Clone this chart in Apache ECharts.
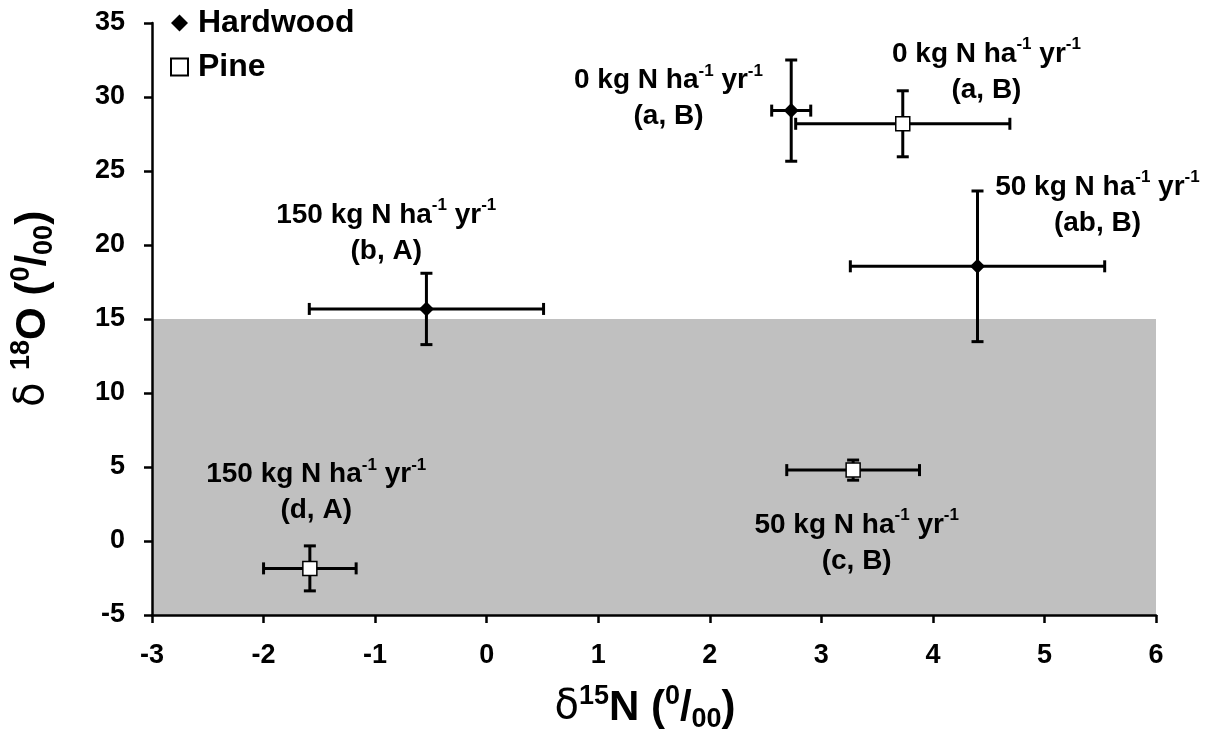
<!DOCTYPE html>
<html><head><meta charset="utf-8">
<script src="https://cdn.jsdelivr.net/npm/echarts@6/dist/echarts.min.js"></script>
<style>html,body{margin:0;padding:0;background:#fff}#c{width:1208px;height:738px}</style>
</head><body><div id="c"></div>
<script>
// ---- data ----
const treatments = ['0', '50', '150'];
const hardwoodN = [2.73, 4.40, -0.54];
const hardwoodNse = [0.175, 1.14, 1.05];
const hardwoodO = [29.08, 18.56, 15.68];
const hardwoodOse = [3.42, 5.09, 2.41];
const pineN = [3.73, 3.285, -1.585];
const pineNse = [0.96, 0.595, 0.415];
const pineO = [28.19, 4.79, -1.85];
const pineOse = [2.23, 0.68, 1.52];
const hardwoodLetters = ['(a, B)', '(ab, B)', '(b, A)'];
const pineLetters = ['(a, B)', '(c, B)', '(d, A)'];
// annotation anchor points (data coordinates)
const hardwoodLabelAt = [[1.63, 29.88], [5.475, 22.71], [-0.90, 20.79]];
const pineLabelAt = [[4.48, 31.7], [3.317, -0.15], [-1.528, 3.28]];
const xRange = [-3, 6, 1];
const yRange = [-5, 35, 5];
const shadeRange = [-5, 15];

const FONT = 'Liberation Sans, Arial, sans-serif';

function errRows(xs, xe, ys, ye) {
  return xs.map((x, i) => [x, ys[i], xe[i], ye[i]]);
}
function labelRows(pos, letters) {
  return pos.map((p, i) => ({ value: p, treat: treatments[i], letters: letters[i] }));
}
function errRender(params, api) {
  const x = api.value(0), y = api.value(1), xe = api.value(2), ye = api.value(3);
  const l = api.coord([x - xe, y]), r = api.coord([x + xe, y]);
  const t = api.coord([x, y + ye]), b = api.coord([x, y - ye]);
  const cap = 6;
  const style = { stroke: '#000', lineWidth: 3 };
  return { type: 'group', children: [
    { type: 'line', shape: { x1: l[0], y1: l[1], x2: r[0], y2: r[1] }, style },
    { type: 'line', shape: { x1: l[0], y1: l[1] - cap, x2: l[0], y2: l[1] + cap }, style },
    { type: 'line', shape: { x1: r[0], y1: r[1] - cap, x2: r[0], y2: r[1] + cap }, style },
    { type: 'line', shape: { x1: t[0], y1: t[1], x2: b[0], y2: b[1] }, style },
    { type: 'line', shape: { x1: t[0] - cap, y1: t[1], x2: t[0] + cap, y2: t[1] }, style },
    { type: 'line', shape: { x1: b[0] - cap, y1: b[1], x2: b[0] + cap, y2: b[1] }, style }
  ]};
}
const annRich = {
  m: { fontFamily: FONT, fontSize: 28, fontWeight: 'bold', color: '#000', lineHeight: 36 },
  s: { fontFamily: FONT, fontSize: 17, fontWeight: 'bold', color: '#000', lineHeight: 24, verticalAlign: 'top' }
};
function annFormatter(p) {
  return '{m|' + p.data.treat + ' kg N ha}{s|-1}{m| yr}{s|-1}\n{m|' + p.data.letters + '}';
}
function labelSeries(name, rows) {
  return {
    name: name, type: 'scatter', data: rows, symbolSize: 1, z: 6, silent: true,
    itemStyle: { color: 'rgba(0,0,0,0)', opacity: 1 },
    label: { show: true, position: 'inside', align: 'center', verticalAlign: 'middle',
      color: '#000', opacity: 1, formatter: annFormatter, rich: annRich },
    emphasis: { disabled: true }
  };
}
const titleRich = {
  d: { fontFamily: 'DejaVu Sans, ' + FONT, fontSize: 40, fontWeight: 'normal', color: '#000', lineHeight: 50 },
  b: { fontFamily: FONT, fontSize: 42, fontWeight: 'bold', color: '#000', lineHeight: 50 },
  s: { fontFamily: FONT, fontSize: 27, fontWeight: 'bold', color: '#000', lineHeight: 32, verticalAlign: 'top' },
  u: { fontFamily: FONT, fontSize: 27, fontWeight: 'bold', color: '#000', lineHeight: 30, verticalAlign: 'bottom' }
};
const axisCommon = {
  z: 10,
  splitLine: { show: false },
  axisLine: { onZero: false, lineStyle: { color: '#000', width: 2.5 } },
  axisTick: { inside: false, length: 8, lineStyle: { color: '#000', width: 2.5 } },
  axisLabel: { fontFamily: FONT, fontSize: 27, fontWeight: 'bold', color: '#000', margin: 27 }
};

const chart = echarts.init(document.getElementById('c'), null, { renderer: 'canvas' });
chart.setOption({
  animation: false,
  backgroundColor: '#fff',
  grid: { left: 142, right: 52, top: 23, bottom: 121, containLabel: false },
  legend: {
    orient: 'vertical', left: 165, top: 2, itemWidth: 17, itemHeight: 17, itemGap: 12,
    data: [{ name: 'Hardwood', icon: 'diamond' }, { name: 'Pine', icon: 'rect' }],
    textStyle: { fontFamily: FONT, fontSize: 32, fontWeight: 'bold', color: '#000', padding: [0, 0, 0, 5] },
    selectedMode: false
  },
  xAxis: Object.assign({}, axisCommon, {
    type: 'value', min: xRange[0], max: xRange[1], interval: xRange[2],
    name: '{d|δ}{s|15}{b|N (}{s|0}{b|/}{u|00}{b|)}',
    nameLocation: 'middle', nameGap: 68,
    nameTextStyle: { rich: titleRich, padding: [0, 18, 0, 0] }
  }),
  yAxis: Object.assign({}, axisCommon, {
    type: 'value', min: yRange[0], max: yRange[1], interval: yRange[2],
    name: '{d|δ }{s|18}{b|O (}{s|0}{b|/}{u|00}{b|)}',
    nameLocation: 'middle', nameRotate: 90, nameGap: 94,
    nameTextStyle: { rich: titleRich, padding: [0, 0, 0, 20] }
  }),
  series: [
    { name: 'shade', type: 'scatter', data: [], z: 1, silent: true,
      markArea: { silent: true, itemStyle: { color: '#c0c0c0', opacity: 1 },
        data: [[{ yAxis: shadeRange[0] }, { yAxis: shadeRange[1] }]] } },
    { name: 'errH', type: 'custom', renderItem: errRender, z: 3, silent: true,
      data: errRows(hardwoodN, hardwoodNse, hardwoodO, hardwoodOse), encode: { x: 0, y: 1 } },
    { name: 'errP', type: 'custom', renderItem: errRender, z: 3, silent: true,
      data: errRows(pineN, pineNse, pineO, pineOse), encode: { x: 0, y: 1 } },
    { name: 'Hardwood', type: 'scatter', symbol: 'diamond', symbolSize: 15, z: 5,
      itemStyle: { color: '#000', opacity: 1 },
      data: hardwoodN.map((x, i) => [x, hardwoodO[i]]) },
    { name: 'Pine', type: 'scatter', symbol: 'rect', symbolSize: 14, z: 5,
      itemStyle: { color: '#fff', borderColor: '#000', borderWidth: 1.5, opacity: 1 },
      data: pineN.map((x, i) => [x, pineO[i]]) },
    labelSeries('hwLabels', labelRows(hardwoodLabelAt, hardwoodLetters)),
    labelSeries('pnLabels', labelRows(pineLabelAt, pineLetters))
  ]
});
</script></body></html>
